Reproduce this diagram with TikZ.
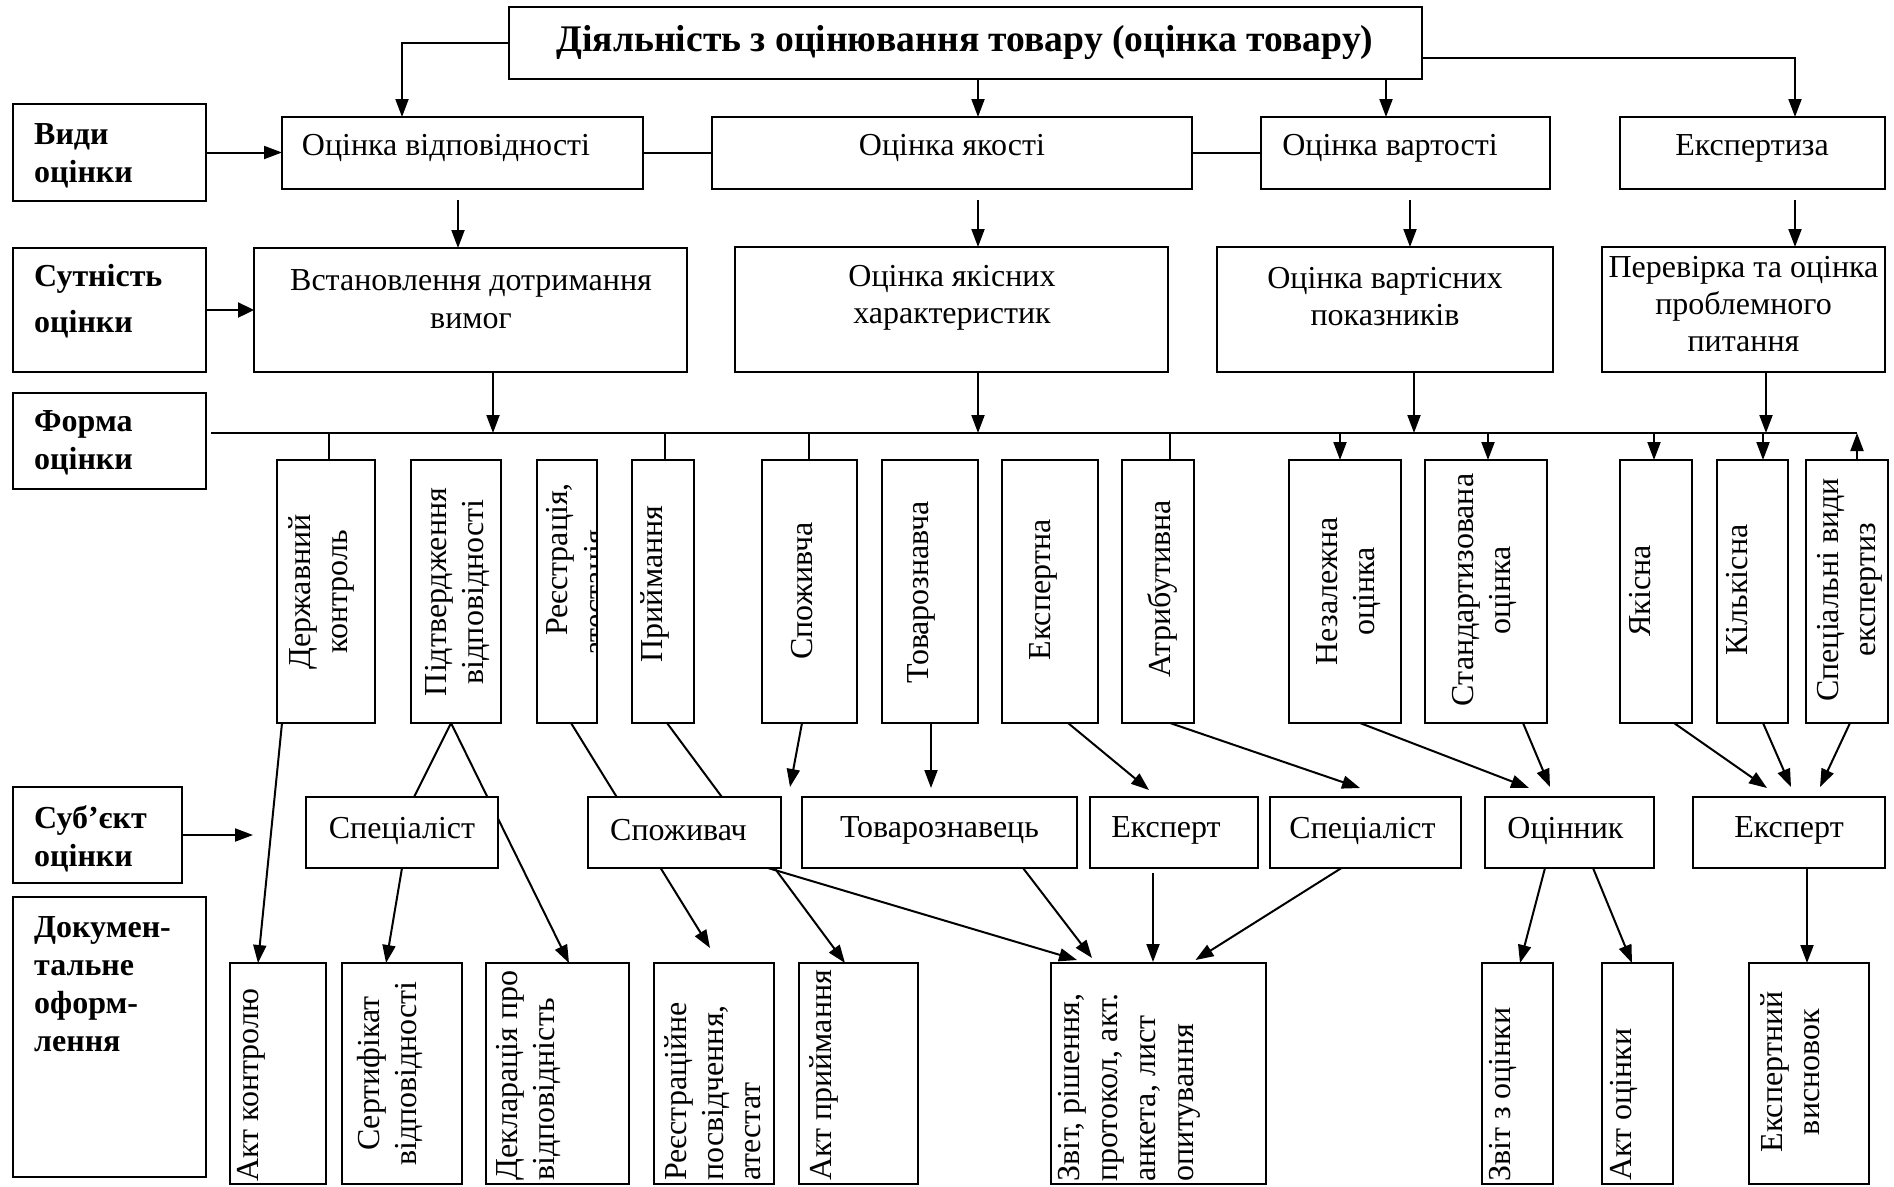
\documentclass[tikz,border=0pt]{standalone}
\usepackage{fontspec}
\setmainfont{Liberation Serif}
\usetikzlibrary{arrows.meta,calc}
\pgfdeclarelayer{bg}
\pgfsetlayers{bg,main}
\newcommand\mkbox[5]{\node[box, anchor=north west, minimum width={(#4-#2)*1pt}, minimum height={(#5-#3)*1pt}] (#1) at (#2,#3) {};}
\begin{document}
\begin{tikzpicture}[x=1pt,y=-1pt,
  box/.style={draw, line width=2.2pt, fill=white, inner sep=0pt, outer sep=0pt},
  txt/.style={inner sep=0pt, align=center, font=\fontsize{32}{37}\selectfont},
  lbl/.style={inner sep=0pt, align=left, anchor=west, font=\fontsize{32}{38}\selectfont\bfseries},
  vt/.style={txt, rotate=90},
  vl/.style={inner sep=0pt, align=left, rotate=90, anchor=west, font=\fontsize{32}{37}\selectfont},
  con/.style={line width=2pt},
  arr/.style={con, -{Triangle[length=18pt,width=13pt]}},
  arrthick/.style={line width=2.4pt, -{Triangle[length=16pt,width=15pt]}},
  bus/.style={line width=2.6pt}]
\useasboundingbox (0,0) rectangle (1894,1186);
\begin{pgfonlayer}{bg}
\fill[white] (0,0) rectangle (1894,1186);
\end{pgfonlayer}

% ---------- boxes ----------
\mkbox{title}{509}{7}{1422}{79}
\mkbox{vv}{13}{104}{206}{201}
\mkbox{ov}{282}{117}{643}{189}
\mkbox{oya}{712}{117}{1192}{189}
\mkbox{ova}{1261}{117}{1550}{189}
\mkbox{eksp}{1620}{117}{1885}{189}
\mkbox{sut}{13}{248}{206}{372}
\mkbox{vst}{254}{248}{687}{372}
\mkbox{oyh}{735}{247}{1168}{372}
\mkbox{ovh}{1217}{247}{1553}{372}
\mkbox{pere}{1602}{247}{1885}{372}
\mkbox{forma}{13}{393}{206}{489}
\mkbox{dk}{277}{460}{375}{723}
\mkbox{pv}{411}{460}{501}{723}
\mkbox{rea}{537}{460}{597}{723}
\mkbox{pr}{632}{460}{694}{723}
\mkbox{spv}{762}{460}{857}{723}
\mkbox{tov}{882}{460}{978}{723}
\mkbox{ekn}{1002}{460}{1098}{723}
\mkbox{atr}{1122}{460}{1194}{723}
\mkbox{nez}{1289}{460}{1401}{723}
\mkbox{std}{1425}{460}{1547}{723}
\mkbox{yak}{1620}{460}{1692}{723}
\mkbox{kil}{1717}{460}{1788}{723}
\mkbox{spec}{1806}{460}{1888}{723}
\mkbox{sub}{13}{787}{182}{883}
\mkbox{sp1}{306}{797}{498}{868}
\mkbox{spc}{588}{797}{781}{868}
\mkbox{tvz}{802}{797}{1077}{868}
\mkbox{ex1}{1090}{797}{1258}{868}
\mkbox{sp2}{1270}{797}{1461}{868}
\mkbox{ocn}{1485}{797}{1654}{868}
\mkbox{ex2}{1693}{797}{1885}{868}
\mkbox{dok}{13}{897}{206}{1177}
\mkbox{akk}{230}{963}{326}{1184}
\mkbox{ser}{342}{963}{462}{1184}
\mkbox{dek}{486}{963}{629}{1184}
\mkbox{reg}{654}{963}{774}{1184}
\mkbox{akp}{799}{963}{918}{1184}
\mkbox{zvt}{1051}{963}{1266}{1184}
\mkbox{zvo}{1482}{963}{1553}{1184}
\mkbox{ako}{1602}{963}{1673}{1184}
\mkbox{evs}{1749}{963}{1869}{1184}

% ---------- texts ----------
\node[txt, font=\fontsize{37.6}{42}\selectfont\bfseries] (t-title) at (965,43) {Діяльність з оцінювання товару (оцінка товару)};
\node[lbl] (l-vv) at (34,156) {Види\\оцінки};
\node[lbl] (l-sut) at (34,301) {Сутність\\[8pt]оцінки};
\node[lbl] (l-forma) at (34,443) {Форма\\оцінки};
\node[lbl] (l-sub) at (34,839) {Суб’єкт\\оцінки};
\node[lbl] (l-dok) at (34,984) {Докумен-\\тальне\\оформ-\\лення};

\node[txt] (t-ov) at (446,148) {Оцінка відповідності};
\node[txt] (t-oya) at (952,148) {Оцінка якості};
\node[txt] (t-ova) at (1390,148) {Оцінка вартості};
\node[txt] (t-eksp) at (1752,148) {Експертиза};

\node[txt] (t-vst) at (471,299) {Встановлення дотримання\\[1pt]вимог};
\node[txt] (t-oyh) at (952,297.5) {Оцінка якісних\\характеристик};
\node[txt] (t-ovh) at (1385,297) {Оцінка вартісних\\показників};
\node[txt] (t-pere) at (1743.5,304) {Перевірка та оцінка\\проблемного\\питання};

\node[vt] (t-dk) at (321,592) {Державний\\контроль};
\node[vt] (t-pv) at (457.6,592) {Підтвердження\\відповідності};
\begin{scope}
\clip ($(rea.north west)+(1.2,1.2)$) rectangle ($(rea.south east)+(-1.2,-1.2)$);
\node[vt] (t-rea1) at (560,559.5) {Реєстрація,};
\node[vt] (t-rea2) at (598,593) {атестація};
\end{scope}
\node[vt] (t-pr) at (655,584) {Приймання};
\node[vt] (t-spv) at (802,591) {Споживча};
\node[vt] (t-tov) at (921,592) {Товарознавча};
\node[vt] (t-ekn) at (1043,590) {Експертна};
\node[vt] (t-atr) at (1162,589) {Атрибутивна};
\node[vt] (t-nez) at (1349,591) {Незалежна\\оцінка};
\node[vt] (t-std) at (1484.5,590) {Стандартизована\\оцінка};
\node[vt] (t-yak) at (1640,591) {Якісна};
\node[vt] (t-kil) at (1737,590) {Кількісна};
\node[vt] (t-spec) at (1849.5,590) {Спеціальні види\\експертиз};

\node[txt] (t-sp1) at ($(sp1.center)+(0,-2)$) {Спеціаліст};
\node[txt] (t-spc) at ($(spc.center)+(-6,-2)$) {Споживач};
\node[txt] (t-tvz) at ($(tvz.center)+(0,-2)$) {Товарознавець};
\node[txt] (t-ex1) at ($(ex1.center)+(-8,-2)$) {Експерт};
\node[txt] (t-sp2) at ($(sp2.center)+(-3,-2)$) {Спеціаліст};
\node[txt] (t-ocn) at ($(ocn.center)+(-4,-2)$) {Оцінник};
\node[txt] (t-ex2) at ($(ex2.center)+(0,-2)$) {Експерт};

\node[vl] (t-akk) at (251,1182) {Акт контролю};
\node[vt] (t-ser) at (390,1073.5) {Сертифікат\\відповідності};
\node[vl] (t-dek) at (528,1181) {Декларація про\\відповідність};
\node[vl] (t-reg) at (713,1181) {Реєстраційне\\посвідчення,\\атестат};
\node[vl] (t-akp) at (823.5,1181) {Акт приймання};
\node[vl, font=\fontsize{32}{38}\selectfont] (t-zvt) at (1129,1182) {Звіт, рішення,\\протокол, акт.\\анкета, лист\\опитування};
\node[vl] (t-zvo) at (1503,1182) {Звіт з оцінки};
\node[vl] (t-ako) at (1624,1181) {Акт оцінки};
\node[vt] (t-evs) at (1790,1072) {Експертний\\висновок};

% ---------- coordinates ----------
\coordinate (busL) at (211,433);
\coordinate (busR) at (1857,433);
\coordinate (a1) at ($(ov.north west)+(120,0)$);
\coordinate (a2) at ($(oya.north west)+(266,0)$);
\coordinate (a3) at ($(ova.north west)+(125,0)$);
\coordinate (a4) at ($(eksp.north west)+(175,0)$);
\coordinate (t4) at ($(title.south east)+(0,-21)$);
\coordinate (b1) at ($(vst.north west)+(204,0)$);
\coordinate (b2) at ($(oyh.north west)+(243,0)$);
\coordinate (b3) at ($(ovh.north west)+(193,0)$);
\coordinate (b4) at ($(pere.north west)+(193,0)$);
\coordinate (c1) at ($(vst.south west)+(239,0)$);
\coordinate (c2) at ($(oyh.south west)+(243,0)$);
\coordinate (c3) at ($(ovh.south west)+(197,0)$);
\coordinate (c4) at ($(pere.south west)+(164,0)$);
\coordinate (d1) at ($(dk.north west)+(52,0)$);
\coordinate (d2) at ($(pr.north west)+(33,0)$);
\coordinate (d3) at ($(spv.north west)+(47,0)$);
\coordinate (d4) at ($(atr.north west)+(48,0)$);
\coordinate (e1) at ($(nez.north west)+(51,0)$);
\coordinate (e2) at ($(std.north west)+(63,0)$);
\coordinate (e3) at ($(yak.north west)+(34,0)$);
\coordinate (e4) at ($(kil.north west)+(46,0)$);
\coordinate (e5) at ($(spec.north west)+(51,0)$);
\coordinate (subEnd) at ($(sub.east)+(71,0)$);

% ---------- connectors ----------
\begin{pgfonlayer}{bg}
\draw[arr] (title.west) -| (a1);
\draw[arr] (title.south -| a2) -- (a2);
\draw[arr] (title.south -| a3) -- (a3);
\draw[arr] (t4) -| (a4);
\draw[arr] (vv.east) -- (vv.east -| ov.west);
\draw[con] (ov.east) -- (oya.west);
\draw[con] (oya.east) -- (ova.west);

\draw[arr] ($(b1)+(0,-48)$) -- (b1);
\draw[arr] ($(b2)+(0,-47)$) -- (b2);
\draw[arr] ($(b3)+(0,-47)$) -- (b3);
\draw[arr] ($(b4)+(0,-47)$) -- (b4);
\draw[arrthick] (sut.east) -- (sut.east -| vst.west);

\draw[bus] (busL) -- (busR);
\draw[arr] (c1) -- (c1 |- busL);
\draw[arr] (c2) -- (c2 |- busL);
\draw[arr] (c3) -- (c3 |- busL);
\draw[arr] (c4) -- (c4 |- busL);
\draw[con] (d1 |- busL) -- (d1);
\draw[con] (d2 |- busL) -- (d2);
\draw[con] (d3 |- busL) -- (d3);
\draw[con] (d4 |- busL) -- (d4);
\draw[arr] (e1 |- busL) -- (e1);
\draw[arr] (e2 |- busL) -- (e2);
\draw[arr] (e3 |- busL) -- (e3);
\draw[arr] (e4 |- busL) -- (e4);
\draw[arr] (e5) -- (e5 |- busL);

\draw[arr] ($(dk.south west)+(5,0)$) -- ($(akk.north west)+(28,0)$);
\draw[con] ($(pv.south west)+(40,0)$) -- ($(sp1.north west)+(108,0)$);
\draw[arr] ($(pv.south west)+(40,0)$) -- ($(dek.north west)+(83,0)$);
\draw[arr] ($(rea.south west)+(34,0)$) -- ($(reg.north west)+(56,-15)$);
\draw[arr] ($(pr.south west)+(35,0)$) -- ($(akp.north west)+(46,0)$);
\draw[arr] ($(spv.south west)+(40,0)$) -- ($(spc.north west)+(202,-10)$);
\draw[arr] ($(tov.south west)+(49,0)$) -- ($(tvz.north west)+(129,-9)$);
\draw[arr] ($(ekn.south west)+(66,0)$) -- ($(ex1.north west)+(59,-7)$);
\draw[arr] ($(atr.south west)+(48,0)$) -- ($(sp2.north west)+(90,-9)$);
\draw[arr] ($(nez.south west)+(71,0)$) -- ($(ocn.north west)+(44,-9)$);
\draw[arr] ($(std.south west)+(98,0)$) -- ($(ocn.north west)+(65,-10)$);
\draw[arr] ($(yak.south west)+(54,0)$) -- ($(ex2.north west)+(74,-9)$);
\draw[arr] ($(kil.south west)+(46,0)$) -- ($(ex2.north west)+(98,-10)$);
\draw[arr] ($(spec.south west)+(44,0)$) -- ($(ex2.north west)+(127,-10)$);

\draw[arr] (sub.east) -- (subEnd);
\draw[arr] ($(sp1.south west)+(96,0)$) -- ($(ser.north west)+(44,0)$);
\draw[arr] ($(spc.south west)+(180,0)$) -- ($(zvt.north west)+(26,-3)$);
\draw[arr] ($(tvz.south west)+(221,0)$) -- ($(zvt.north west)+(41,-5)$);
\draw[arr] ($(ex1.south west)+(63,5)$) -- ($(zvt.north west)+(102,-1)$);
\draw[arr] ($(sp2.south west)+(71.5,0)$) -- ($(zvt.north west)+(144.5,-3)$);
\draw[arr] ($(ocn.south west)+(60,0)$) -- ($(zvo.north west)+(38,0)$);
\draw[arr] ($(ocn.south west)+(108,0)$) -- ($(ako.north west)+(30,0)$);
\draw[arr] ($(ex2.south west)+(114,0)$) -- ($(evs.north west)+(58,0)$);
\end{pgfonlayer}
\end{tikzpicture}
\end{document}
